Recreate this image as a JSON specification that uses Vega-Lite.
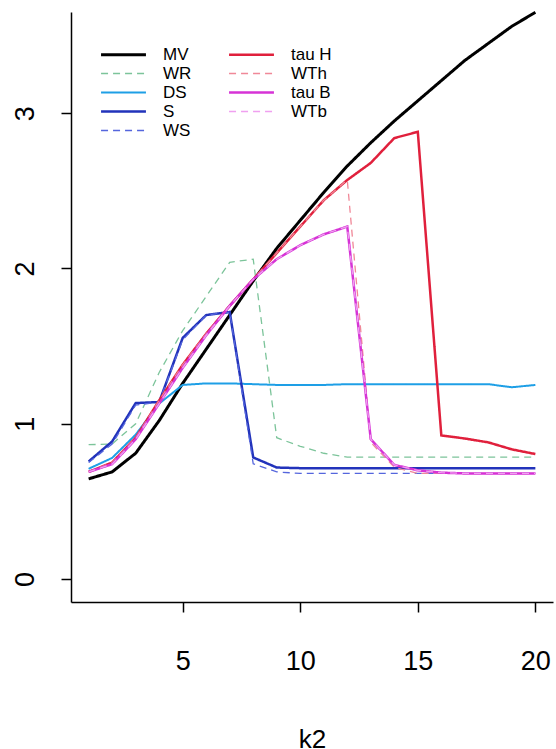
{
  "$schema": "https://vega.github.io/schema/vega-lite/v6.json",
  "width": 482,
  "height": 590,
  "autosize": {"type": "none"},
  "padding": {"left": 71, "top": 12, "right": 3, "bottom": 147},
  "background": "white",
  "config": {
    "view": {"stroke": null},
    "font": "Liberation Sans",
    "axis": {"grid": false, "domainColor": "#000", "domainWidth": 1.5, "tickColor": "#000", "tickWidth": 1.5, "tickSize": 10, "labelColor": "#000", "titleColor": "#000", "labelFont": "Liberation Sans", "titleFont": "Liberation Sans"}
  },
  "data": {"values": [
    {"k":1,"s":"MV","v":0.645},{"k":2,"s":"MV","v":0.69},{"k":3,"s":"MV","v":0.81},{"k":4,"s":"MV","v":1.02},{"k":5,"s":"MV","v":1.26},{"k":6,"s":"MV","v":1.48},{"k":7,"s":"MV","v":1.70},{"k":8,"s":"MV","v":1.92},{"k":9,"s":"MV","v":2.13},{"k":10,"s":"MV","v":2.31},{"k":11,"s":"MV","v":2.49},{"k":12,"s":"MV","v":2.66},{"k":13,"s":"MV","v":2.81},{"k":14,"s":"MV","v":2.95},{"k":15,"s":"MV","v":3.08},{"k":16,"s":"MV","v":3.21},{"k":17,"s":"MV","v":3.34},{"k":18,"s":"MV","v":3.45},{"k":19,"s":"MV","v":3.56},{"k":20,"s":"MV","v":3.65},
    {"k":1,"s":"WR","v":0.865},{"k":2,"s":"WR","v":0.87},{"k":3,"s":"WR","v":1.0},{"k":4,"s":"WR","v":1.33},{"k":5,"s":"WR","v":1.6},{"k":6,"s":"WR","v":1.82},{"k":7,"s":"WR","v":2.04},{"k":8,"s":"WR","v":2.06},{"k":9,"s":"WR","v":0.91},{"k":10,"s":"WR","v":0.855},{"k":11,"s":"WR","v":0.81},{"k":12,"s":"WR","v":0.785},{"k":13,"s":"WR","v":0.785},{"k":14,"s":"WR","v":0.785},{"k":15,"s":"WR","v":0.785},{"k":16,"s":"WR","v":0.785},{"k":17,"s":"WR","v":0.785},{"k":18,"s":"WR","v":0.785},{"k":19,"s":"WR","v":0.785},{"k":20,"s":"WR","v":0.785},
    {"k":1,"s":"DS","v":0.71},{"k":2,"s":"DS","v":0.78},{"k":3,"s":"DS","v":0.93},{"k":4,"s":"DS","v":1.13},{"k":5,"s":"DS","v":1.25},{"k":6,"s":"DS","v":1.26},{"k":7,"s":"DS","v":1.26},{"k":8,"s":"DS","v":1.255},{"k":9,"s":"DS","v":1.25},{"k":10,"s":"DS","v":1.25},{"k":11,"s":"DS","v":1.25},{"k":12,"s":"DS","v":1.255},{"k":13,"s":"DS","v":1.255},{"k":14,"s":"DS","v":1.255},{"k":15,"s":"DS","v":1.255},{"k":16,"s":"DS","v":1.255},{"k":17,"s":"DS","v":1.255},{"k":18,"s":"DS","v":1.255},{"k":19,"s":"DS","v":1.235},{"k":20,"s":"DS","v":1.25},
    {"k":1,"s":"S","v":0.757},{"k":2,"s":"S","v":0.886},{"k":3,"s":"S","v":1.133},{"k":4,"s":"S","v":1.14},{"k":5,"s":"S","v":1.553},{"k":6,"s":"S","v":1.70},{"k":7,"s":"S","v":1.72},{"k":8,"s":"S","v":0.783},{"k":9,"s":"S","v":0.718},{"k":10,"s":"S","v":0.714},{"k":11,"s":"S","v":0.714},{"k":12,"s":"S","v":0.714},{"k":13,"s":"S","v":0.714},{"k":14,"s":"S","v":0.714},{"k":15,"s":"S","v":0.714},{"k":16,"s":"S","v":0.714},{"k":17,"s":"S","v":0.714},{"k":18,"s":"S","v":0.714},{"k":19,"s":"S","v":0.714},{"k":20,"s":"S","v":0.714},
    {"k":1,"s":"WS","v":0.75},{"k":2,"s":"WS","v":0.87},{"k":3,"s":"WS","v":1.12},{"k":4,"s":"WS","v":1.14},{"k":5,"s":"WS","v":1.54},{"k":6,"s":"WS","v":1.70},{"k":7,"s":"WS","v":1.72},{"k":8,"s":"WS","v":0.742},{"k":9,"s":"WS","v":0.69},{"k":10,"s":"WS","v":0.68},{"k":11,"s":"WS","v":0.68},{"k":12,"s":"WS","v":0.68},{"k":13,"s":"WS","v":0.68},{"k":14,"s":"WS","v":0.68},{"k":15,"s":"WS","v":0.68},{"k":16,"s":"WS","v":0.68},{"k":17,"s":"WS","v":0.68},{"k":18,"s":"WS","v":0.68},{"k":19,"s":"WS","v":0.68},{"k":20,"s":"WS","v":0.68},
    {"k":1,"s":"tau H","v":0.69},{"k":2,"s":"tau H","v":0.75},{"k":3,"s":"tau H","v":0.91},{"k":4,"s":"tau H","v":1.15},{"k":5,"s":"tau H","v":1.38},{"k":6,"s":"tau H","v":1.58},{"k":7,"s":"tau H","v":1.76},{"k":8,"s":"tau H","v":1.93},{"k":9,"s":"tau H","v":2.10},{"k":10,"s":"tau H","v":2.27},{"k":11,"s":"tau H","v":2.44},{"k":12,"s":"tau H","v":2.57},{"k":13,"s":"tau H","v":2.68},{"k":14,"s":"tau H","v":2.84},{"k":15,"s":"tau H","v":2.88},{"k":16,"s":"tau H","v":0.925},{"k":17,"s":"tau H","v":0.905},{"k":18,"s":"tau H","v":0.88},{"k":19,"s":"tau H","v":0.835},{"k":20,"s":"tau H","v":0.805},
    {"k":1,"s":"WTh","v":0.69},{"k":2,"s":"WTh","v":0.75},{"k":3,"s":"WTh","v":0.91},{"k":4,"s":"WTh","v":1.15},{"k":5,"s":"WTh","v":1.38},{"k":6,"s":"WTh","v":1.58},{"k":7,"s":"WTh","v":1.76},{"k":8,"s":"WTh","v":1.93},{"k":9,"s":"WTh","v":2.10},{"k":10,"s":"WTh","v":2.27},{"k":11,"s":"WTh","v":2.44},{"k":12,"s":"WTh","v":2.57},{"k":13,"s":"WTh","v":0.88},{"k":14,"s":"WTh","v":0.72},{"k":15,"s":"WTh","v":0.68},{"k":16,"s":"WTh","v":0.68},{"k":17,"s":"WTh","v":0.68},{"k":18,"s":"WTh","v":0.68},{"k":19,"s":"WTh","v":0.68},{"k":20,"s":"WTh","v":0.68},
    {"k":1,"s":"tau B","v":0.69},{"k":2,"s":"tau B","v":0.74},{"k":3,"s":"tau B","v":0.90},{"k":4,"s":"tau B","v":1.13},{"k":5,"s":"tau B","v":1.36},{"k":6,"s":"tau B","v":1.57},{"k":7,"s":"tau B","v":1.76},{"k":8,"s":"tau B","v":1.93},{"k":9,"s":"tau B","v":2.06},{"k":10,"s":"tau B","v":2.15},{"k":11,"s":"tau B","v":2.22},{"k":12,"s":"tau B","v":2.27},{"k":13,"s":"tau B","v":0.90},{"k":14,"s":"tau B","v":0.735},{"k":15,"s":"tau B","v":0.70},{"k":16,"s":"tau B","v":0.685},{"k":17,"s":"tau B","v":0.68},{"k":18,"s":"tau B","v":0.68},{"k":19,"s":"tau B","v":0.68},{"k":20,"s":"tau B","v":0.68},
    {"k":1,"s":"WTb","v":0.69},{"k":2,"s":"WTb","v":0.74},{"k":3,"s":"WTb","v":0.90},{"k":4,"s":"WTb","v":1.13},{"k":5,"s":"WTb","v":1.36},{"k":6,"s":"WTb","v":1.57},{"k":7,"s":"WTb","v":1.76},{"k":8,"s":"WTb","v":1.93},{"k":9,"s":"WTb","v":2.06},{"k":10,"s":"WTb","v":2.15},{"k":11,"s":"WTb","v":2.22},{"k":12,"s":"WTb","v":2.27},{"k":13,"s":"WTb","v":0.90},{"k":14,"s":"WTb","v":0.735},{"k":15,"s":"WTb","v":0.70},{"k":16,"s":"WTb","v":0.685},{"k":17,"s":"WTb","v":0.68},{"k":18,"s":"WTb","v":0.68},{"k":19,"s":"WTb","v":0.68},{"k":20,"s":"WTb","v":0.68}
  ]},
  "mark": {"type": "line", "clip": false},
  "encoding": {
    "x": {"field": "k", "type": "quantitative",
      "scale": {"domain": [0.25, 20.75], "nice": false, "zero": false},
      "axis": {"values": [5, 10, 15, 20], "title": "k2", "labelFontSize": 27, "labelPadding": 36, "labelBaseline": "top", "titleFontSize": 26, "titleFontWeight": "normal", "titlePadding": 52}},
    "y": {"field": "v", "type": "quantitative",
      "scale": {"domain": [-0.148, 3.652], "nice": false, "zero": false},
      "axis": {"values": [0, 1, 2, 3], "title": null, "labelAngle": -90, "labelFontSize": 27, "labelAlign": "center", "labelBaseline": "alphabetic", "labelPadding": 28}},
    "color": {"field": "s", "type": "nominal",
      "scale": {"domain": ["MV", "WR", "DS", "S", "WS", "tau H", "WTh", "tau B", "WTb"],
                "range": ["#000000", "#7cc49a", "#1e9fe6", "#2233bb", "#5566dd", "#e0203c", "#f08898", "#d633d6", "#f0a0f0"]},
      "legend": {"orient": "none", "legendX": 44, "legendY": 34, "columns": 2, "title": null, "symbolType": "M-4,0H4", "symbolSize": 126, "labelFontSize": 17, "labelFont": "Liberation Sans", "labelColor": "#000", "labelOffset": 31, "columnPadding": 32, "rowPadding": 1, "padding": 0}},
    "strokeDash": {"field": "s", "type": "nominal",
      "scale": {"domain": ["MV", "WR", "DS", "S", "WS", "tau H", "WTh", "tau B", "WTb"],
                "range": [[1,0], [7,5], [1,0], [1,0], [7,5], [1,0], [7,5], [1,0], [7,5]]}},
    "strokeWidth": {"field": "s", "type": "nominal",
      "scale": {"type": "ordinal", "domain": ["MV", "WR", "DS", "S", "WS", "tau H", "WTh", "tau B", "WTb"],
                "range": [3, 1.3, 2, 2.5, 1.3, 2.5, 1.3, 2.5, 1.3]}}
  }
}
